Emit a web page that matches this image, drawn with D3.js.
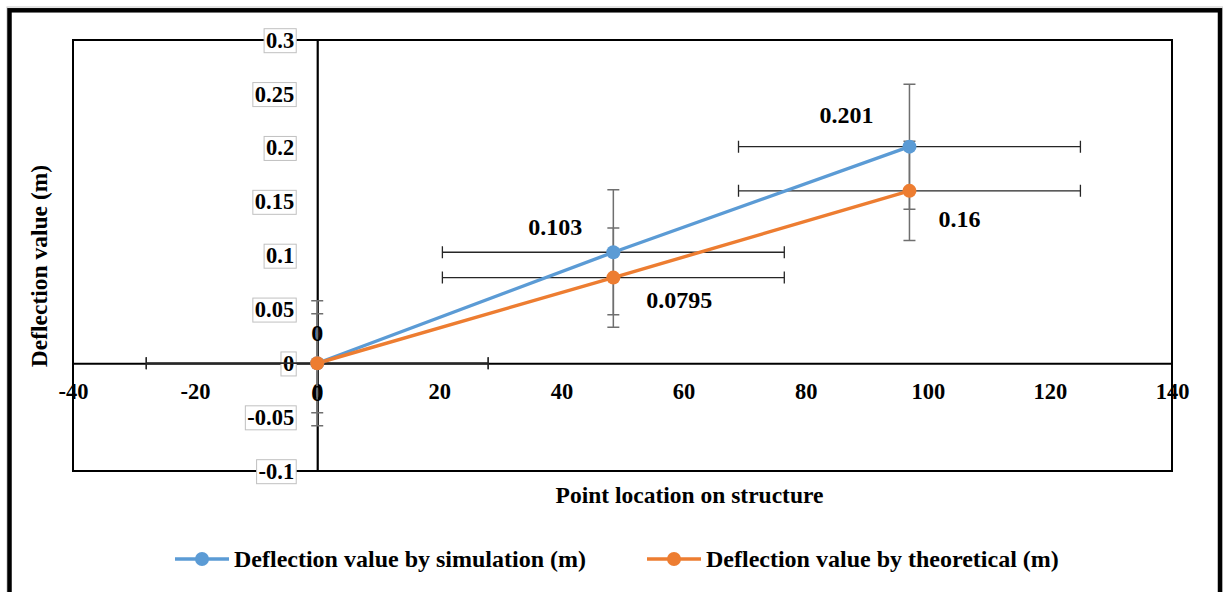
<!DOCTYPE html>
<html>
<head>
<meta charset="utf-8">
<script src="https://cdn.jsdelivr.net/npm/d3@7"></script>
<style>
  html, body { margin: 0; padding: 0; background: #fff; }
  svg { display: block; }
  text { font-family: "Liberation Serif", "Times New Roman", serif; font-weight: bold; fill: #000; }
</style>
</head>
<body>
<svg id="chart" width="1223" height="592"></svg>
<script>
// point locations and deflection values
const xVals = [0, 48.5, 97];
const simVals = [0, 0.103, 0.201];
const theoVals = [0, 0.0795, 0.16];
const xErr = [28, 28, 28];
const simYErr = [0.058, 0.058, 0.058];
const theoYErr = [0.046, 0.046, 0.046];
const simLabels = ['0', '0.103', '0.201'];
const theoLabels = ['0', '0.0795', '0.16'];
const xTicks = [-40, -20, 0, 20, 40, 60, 80, 100, 120, 140];
const yTicks = [-0.1, -0.05, 0, 0.05, 0.1, 0.15, 0.2, 0.25, 0.3];
const seriesNames = ['Deflection value by simulation (m)', 'Deflection value by theoretical (m)'];

// label nudges in pixels (Excel labels were dragged by hand)
const simLabelOff = [[0, -31], [-58, -26], [-63, -32]];
const theoLabelOff = [[0, 29], [66, 22], [50, 28]];

const colors = ['#5B9BD5', '#ED7D31'];
const plot = { left: 73, right: 1172, top: 40, bottom: 471 };

const svg = d3.select('#chart');

// outer frame
svg.append('rect')
  .attr('x', 7).attr('y', 7).attr('width', 1216).attr('height', 600)
  .attr('fill', 'none').attr('stroke', '#c8c8c8').attr('stroke-width', 1);
svg.append('rect')
  .attr('x', 9.5).attr('y', 10.3).attr('width', 1210.5).attr('height', 600)
  .attr('fill', 'none').attr('stroke', '#000').attr('stroke-width', 4.5);

const x = d3.scaleLinear().domain([-40, 140]).range([plot.left, plot.right]);
const y = d3.scaleLinear().domain([-0.1, 0.3]).range([plot.bottom, plot.top]);

// plot area border
svg.append('rect')
  .attr('x', plot.left).attr('y', plot.top)
  .attr('width', plot.right - plot.left).attr('height', plot.bottom - plot.top)
  .attr('fill', 'none').attr('stroke', '#000').attr('stroke-width', 2);

// axes crossing at zero
const xAxis = svg.append('g')
  .attr('transform', `translate(0,${y(0)})`)
  .call(d3.axisBottom(x).tickValues(xTicks).tickSize(0).tickPadding(20).tickFormat(d => String(d)));
xAxis.select('.domain').attr('stroke', '#000').attr('stroke-width', 2.2);
xAxis.selectAll('text').attr('font-size', 22.5).attr('font-family', null);

const yAxis = svg.append('g')
  .attr('transform', `translate(${x(0)},0)`)
  .call(d3.axisLeft(y).tickValues(yTicks).tickSize(0).tickPadding(23).tickFormat(d => String(+d.toFixed(2))));
yAxis.select('.domain').attr('stroke', '#000').attr('stroke-width', 2.2);
yAxis.selectAll('text').attr('font-size', 22.5).attr('font-family', null);

// grey boxes behind y tick labels
yAxis.selectAll('.tick').each(function () {
  const t = d3.select(this);
  const bb = t.select('text').node().getBBox();
  t.insert('rect', 'text')
    .attr('x', bb.x - 2).attr('y', bb.y + 1)
    .attr('width', bb.width + 4).attr('height', bb.height - 1)
    .attr('fill', '#fff').attr('stroke', '#c0c0c0').attr('stroke-width', 1);
});

const series = [
  { vals: simVals, yErr: simYErr, labels: simLabels, off: simLabelOff },
  { vals: theoVals, yErr: theoYErr, labels: theoLabels, off: theoLabelOff }
];

const cap = 6;
const errG = svg.append('g');
series.forEach(s => {
  xVals.forEach((xv, i) => {
    const cy = y(s.vals[i]);
    const x1 = x(xv - xErr[i]), x2 = x(xv + xErr[i]);
    errG.append('path')
      .attr('d', `M${x1},${cy}H${x2}M${x1},${cy - cap}V${cy + cap}M${x2},${cy - cap}V${cy + cap}`)
      .attr('stroke', '#262626').attr('stroke-width', 1.3).attr('fill', 'none');
    const cx = x(xv);
    const y1 = y(s.vals[i] + s.yErr[i]), y2 = y(s.vals[i] - s.yErr[i]);
    errG.append('path')
      .attr('d', `M${cx},${y1}V${y2}M${cx - cap},${y1}H${cx + cap}M${cx - cap},${y2}H${cx + cap}`)
      .attr('stroke', '#6f6f6f').attr('stroke-width', 1.5).attr('fill', 'none');
  });
});

const line = d3.line().x((d, i) => x(xVals[i])).y(d => y(d));
series.forEach((s, k) => {
  svg.append('path')
    .datum(s.vals)
    .attr('d', line)
    .attr('fill', 'none').attr('stroke', colors[k]).attr('stroke-width', 3.4);
});
series.forEach((s, k) => {
  svg.append('g').selectAll('circle')
    .data(s.vals)
    .join('circle')
    .attr('cx', (d, i) => x(xVals[i]))
    .attr('cy', d => y(d))
    .attr('r', 7)
    .attr('fill', colors[k]);
});

// data labels
series.forEach(s => {
  svg.append('g').selectAll('text')
    .data(s.vals)
    .join('text')
    .attr('x', (d, i) => x(xVals[i]) + s.off[i][0])
    .attr('y', (d, i) => y(d) + s.off[i][1])
    .attr('dy', '0.35em')
    .attr('text-anchor', 'middle')
    .attr('font-size', 24)
    .text((d, i) => s.labels[i]);
});

// axis titles
svg.append('text')
  .attr('x', (plot.left + plot.right) / 2 + 67).attr('y', 503)
  .attr('text-anchor', 'middle').attr('font-size', 23.5)
  .text('Point location on structure');
svg.append('text')
  .attr('transform', 'translate(47,266) rotate(-90)')
  .attr('text-anchor', 'middle').attr('font-size', 23.5)
  .text('Deflection value (m)');

// legend
const legendX = [175, 647];
const legend = svg.append('g').attr('transform', 'translate(0,559)');
seriesNames.forEach((name, k) => {
  const g = legend.append('g').attr('transform', `translate(${legendX[k]},0)`);
  g.append('line').attr('x1', 0).attr('x2', 54).attr('y1', 0).attr('y2', 0)
    .attr('stroke', colors[k]).attr('stroke-width', 3.4);
  g.append('circle').attr('cx', 27).attr('cy', 0).attr('r', 7).attr('fill', colors[k]);
  g.append('text').attr('x', 59).attr('dy', '0.35em').attr('font-size', 24).text(name);
});
</script>
</body>
</html>
